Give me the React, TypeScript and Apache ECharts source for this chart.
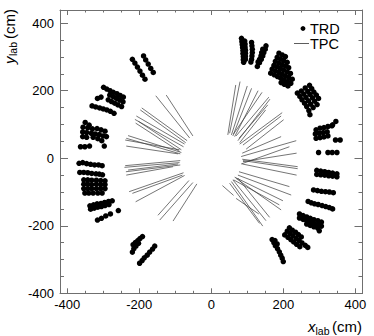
import React, { useEffect, useRef } from 'react';
import * as echarts from 'echarts';

// ---- TRD hits (cm) ----
const trdA = [[-219,293],[-212,282],[-205,270],[-198,258],[-191,246],[-184,234],
  [-188,303],[-182,291],[-175,279],[-168,266],[-161,254]];
const trdB = [[-299,210],[-290,205],[-281,200],[-272,195],[-262,191],[-253,186],[-244,181],
  [-282,187],[-272,182],[-263,177],[-254,172],[-245,167],
  [-286,173],[-277,168],[-268,163],[-259,158],[-249,153],
  [-316,177],[-306,181],
  [-331,155],[-321,152],[-310,149],[-300,146],[-290,143],[-280,139],[-270,133]];
const trdC = [[-350,106],[-339,98],
  [-356,92],[-343,90],[-330,87],[-317,88],[-306,84],[-295,80],
  [-357,78],[-346,76],[-333,74],[-322,72],[-311,70],[-300,66],[-291,64],
  [-357,64],[-346,62],[-328,62],[-315,58],[-304,52],
  [-363,34],[-351,34],[-338,36],[-297,36]];
const trdD = [[-367,-15],[-357,-13],[-346,-16],[-335,-18],[-324,-20],[-313,-20],[-303,-22],
  [-365,-42],[-354,-42],[-343,-43],[-332,-45],[-320,-46],[-311,-47],[-302,-49],
  [-354,-64],[-343,-64],[-332,-65],[-319,-65],[-307,-66],[-295,-67],
  [-354,-77],[-343,-77],[-332,-78],[-319,-77],[-307,-78],[-295,-78],
  [-354,-90],[-343,-90],[-332,-90],[-319,-90],[-307,-90],[-295,-90],
  [-351,-103],[-340,-103],[-328,-103],[-315,-103],[-303,-103]];
const trdE = [[-337,-141],[-327,-138],[-317,-135],[-306,-134],[-296,-131],[-285,-128],[-275,-126],
  [-335,-151],[-325,-148],[-315,-145],[-305,-143],[-295,-140],[-284,-137],
  [-316,-183],[-305,-178],[-293,-171],[-280,-165],
  [-258,-155]];
const trdF = [[-191,-232],[-198,-238],[-204,-244],[-211,-250],[-217,-256],
  [-202,-252],[-209,-260],[-215,-268],[-219,-278],
  [-199,-311],[-192,-303],[-186,-295],[-178,-287],[-171,-278],[-163,-269],[-157,-260]];
const trdG = [[84,355],[85,346],[86,337],[87,328],[88,319],[88,310],[89,301],[89,292],[90,284],
  [93,347],[94,338],[94,329],[95,320],[95,311],[95,302],[95,293],
  [112,343],[113,333],[114,323],[114,313],[113,303],[112,293],[110,285],
  [152,333],[150,323],[146,313],[143,303],[139,293],[134,283],[128,272],
  [143,323],[140,313],[138,303],[134,293],[130,285]];
const trdH = [[188,311],[197,306],[206,301],
  [183,299],[192,294],[201,289],[211,284],
  [178,287],[188,282],[197,277],[206,273],[215,268],
  [174,275],[183,271],[192,266],[201,261],[211,256],[220,251],
  [169,264],[178,259],[188,254],[197,249],[206,244],[215,239],[225,234],
  [165,252],[175,247],[184,242],[193,237],[202,232],[212,227],[221,222],
  [194,224],[203,219],[213,214]];
const trdI = [[239,193],[246,183],[252,173],[259,163],[265,153],[271,141],[274,129],
  [250,199],[257,190],[263,180],[270,170],[276,160],[283,150],
  [261,208],[268,198],[274,189],[281,179],[287,169],[294,159],
  [273,216],[279,206],[285,196],[292,187],[298,177]];
const trdJ = [[346,109],[337,99],
  [291,84],[302,89],[313,91],[324,94],[335,96],
  [289,72],[300,74],[311,76],[322,78],
  [291,59],[302,61],[313,63],[324,66],
  [345,54],[358,54],
  [298,17],
  [324,17],[336,17],[349,17]];
const trdK = [[293,-36],[304,-38],[315,-40],[326,-42],[337,-44],[349,-46],
  [293,-48],[304,-49],[315,-50],[326,-52],[337,-53],[349,-55]];
const trdL = [[284,-94],[295,-96],[306,-98],[317,-99],[328,-100],[339,-102]];
const trdM = [[269,-128],[278,-132],[287,-135],[297,-137],[308,-140],[318,-143],[328,-146],[337,-150]];
const trdN = [[245,-165],[255,-170],[265,-174],[275,-178],[285,-182],[296,-185],[306,-189],
  [245,-177],[255,-181],[265,-185],[275,-189],[285,-193],[296,-197],[306,-201],
  [265,-195],[275,-199],[285,-203],[296,-207],[300,-215]];
const trdO = [[217,-206],[225,-213],[234,-219],[242,-226],[250,-233],
  [211,-216],[219,-223],[227,-230],[236,-237],[244,-244],[252,-251],
  [204,-227],[213,-234],[221,-241],[229,-248],[237,-255],[246,-262],
  [261,-258],[268,-264]];
const trdP = [[169,-241],[174,-250],[178,-259],[184,-268],[189,-277],[193,-287],[197,-296],[200,-306],
  [177,-244],[183,-254]];

// ---- TPC track segments: [x1, y1, x2, y2] (cm) ----
const tpcLeft = [
  [-154,185,-60,60],[-125,187,-51,66],[-193,149,-67,52],[-197,143,-71,46],
  [-208,125,-74,42],[-212,115,-77,34],[-202,109,-83,25],[-210,104,-88,20],
  [-231,67,-83,17],[-236,59,-86,13],[-239,54,-88,25],[-236,36,-92,13],
  [-239,-22,-86,-7],[-241,-27,-88,-13],[-237,-40,-86,-20],[-236,-50,-106,-25],
  [-231,-35,-92,-17],[-228,-99,-77,-43],[-219,-104,-80,-50],[-210,-129,-74,-51],
  [-148,-169,-62,-66],[-143,-183,-51,-72],[-106,-186,-40,-76]];
const tpcRight = [
  [80,227,51,74],[68,217,46,69],[100,214,56,69],[112,207,60,66],
  [130,200,65,64],[141,195,62,72],[160,181,69,66],[163,175,74,52],
  [157,158,77,59],[151,143,79,46],[197,135,79,42],[194,125,88,39],
  [201,114,97,27],[194,64,86,15],[236,52,83,5],[237,15,88,-10],
  [217,34,83,-17],[240,-25,86,-3],[240,-31,88,-7],[237,-50,86,-17],
  [217,-84,77,-40],[222,-109,74,-50],[199,-126,65,-56],[189,-138,62,-64],
  [194,-153,68,-59],[152,-185,60,-64],[143,-201,56,-69],[162,-175,74,-59],
  [134,-193,51,-74],[31,-81,62,-110],[69,-119,132,-165]];

// ---- axis ticks ----
const majorTicks = [-400, -200, 0, 200, 400];
const minorTicks = [-400, -350, -300, -250, -200, -150, -100, -50, 0, 50, 100, 150, 200, 250, 300, 350, 400];

const FONT = "'Liberation Sans', Arial, Helvetica, sans-serif";
const FRAME = '#6f6f6f';

export default function App() {
  const ref = useRef<HTMLDivElement>(null);
  useEffect(() => {
    const chart = echarts.init(ref.current!, null, { renderer: 'svg' });
    const trd = [...trdA, ...trdB, ...trdC, ...trdD, ...trdE, ...trdF, ...trdG, ...trdH,
      ...trdI, ...trdJ, ...trdK, ...trdL, ...trdM, ...trdN, ...trdO, ...trdP];
    const tpc = [...tpcLeft, ...tpcRight].map((s) => ({ coords: [[s[0], s[1]], [s[2], s[3]]] }));

    const line = { color: FRAME, width: 1 };
    const mkX = (pos: string, major: boolean, labels: boolean) => ({
      type: 'value', min: -420, max: 420, position: pos,
      splitLine: { show: false },
      axisLine: { show: major, onZero: false, lineStyle: line },
      axisTick: { show: true, inside: true, length: major ? 5 : 2.5, customValues: major ? majorTicks : minorTicks, lineStyle: line },
      axisLabel: labels
        ? { show: true, customValues: majorTicks, fontSize: 13, color: '#000', fontFamily: FONT, margin: 5 }
        : { show: false },
    });
    const mkY = (pos: string, major: boolean, labels: boolean) => ({
      type: 'value', min: -400, max: 439, position: pos,
      splitLine: { show: false },
      axisLine: { show: major, onZero: false, lineStyle: line },
      axisTick: { show: true, inside: true, length: major ? 8 : 4, customValues: major ? majorTicks : minorTicks, lineStyle: line },
      axisLabel: labels
        ? { show: true, customValues: majorTicks, fontSize: 13, color: '#000', fontFamily: FONT, margin: 6 }
        : { show: false },
    });

    chart.setOption({
      animation: false,
      backgroundColor: '#fff',
      grid: { left: 60, top: 10, right: 11.5, bottom: 42.7, containLabel: false },
      xAxis: [mkX('bottom', true, true), mkX('bottom', false, false), mkX('top', true, false), mkX('top', false, false)],
      yAxis: [mkY('left', true, true), mkY('left', false, false), mkY('right', true, false), mkY('right', false, false)],
      series: [
        {
          type: 'lines', name: 'TPC', coordinateSystem: 'cartesian2d', xAxisIndex: 0, yAxisIndex: 0,
          data: tpc, symbol: ['none', 'none'], silent: true,
          lineStyle: { color: '#3a3a3a', width: 0.7, opacity: 1 },
        },
        {
          type: 'scatter', name: 'TRD', xAxisIndex: 0, yAxisIndex: 0, data: trd,
          symbol: 'circle', symbolSize: 5.5, silent: true, itemStyle: { color: '#000', opacity: 1 },
        },
      ],
      graphic: [
        // legend
        { type: 'circle', shape: { cx: 303, cy: 28.5, r: 2.4 }, style: { fill: '#000' }, silent: true },
        { type: 'text', x: 310, y: 28.8, style: { text: 'TRD', fontSize: 14.5, fontFamily: FONT, fill: '#000', align: 'left', verticalAlign: 'middle' } },
        { type: 'line', shape: { x1: 294, y1: 43.5, x2: 309, y2: 43.5 }, style: { stroke: '#333', lineWidth: 0.8 }, silent: true },
        { type: 'text', x: 310, y: 44.2, style: { text: 'TPC', fontSize: 14.5, fontFamily: FONT, fill: '#000', align: 'left', verticalAlign: 'middle' } },
        // x title
        { type: 'text', x: 308, y: 326.5, style: { text: 'x', fontSize: 15, fontStyle: 'italic', fontFamily: FONT, fill: '#000', align: 'left', verticalAlign: 'middle' } },
        { type: 'text', x: 315.5, y: 330.5, style: { text: 'lab', fontSize: 10.5, fontFamily: FONT, fill: '#000', align: 'left', verticalAlign: 'middle' } },
        { type: 'text', x: 362, y: 326.5, style: { text: '(cm)', fontSize: 15, fontFamily: FONT, fill: '#000', align: 'right', verticalAlign: 'middle' } },
        // y title (rotated)
        {
          type: 'group', x: 0, y: 64, rotation: Math.PI / 2,
          children: [
            { type: 'text', x: 0, y: 9.3, style: { text: 'y', fontSize: 15, fontStyle: 'italic', fontFamily: FONT, fill: '#000', align: 'left', verticalAlign: 'middle' } },
            { type: 'text', x: 8, y: 13.3, style: { text: 'lab', fontSize: 10.5, fontFamily: FONT, fill: '#000', align: 'left', verticalAlign: 'middle' } },
            { type: 'text', x: 55, y: 9.3, style: { text: '(cm)', fontSize: 15, fontFamily: FONT, fill: '#000', align: 'right', verticalAlign: 'middle' } },
          ],
        },
      ],
    });
    return () => chart.dispose();
  }, []);
  return <div ref={ref} style={{ position: 'fixed', left: 0, top: 0, width: 374, height: 336, background: '#fff' }} />;
}
